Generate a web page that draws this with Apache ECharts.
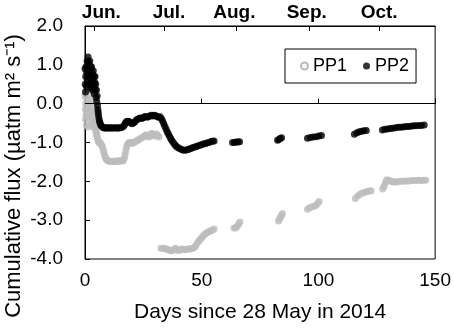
<!DOCTYPE html>
<html>
<head>
<meta charset="utf-8">
<script src="https://cdn.jsdelivr.net/npm/echarts@6/dist/echarts.min.js"></script>
<style>
html,body{margin:0;padding:0;background:#fff;}
#chart{width:454px;height:328px;}
</style>
</head>
<body>
<div id="chart"></div>
<script>
// ---- data (day since 28 May 2014, cumulative flux) ----
const seriesNames = ['PP1', 'PP2'];
const monthNames = ['Jun.', 'Jul.', 'Aug.', 'Sep.', 'Oct.'];
const monthTickDays = [4, 34, 65, 96, 126];
const monthLabelDays = [7, 36, 64, 95, 126];
const xTickValues = [0, 50, 100, 150];
const yTickValues = [-4, -3, -2, -1, 0, 1, 2];

const pp1Points = [
[0,0.2],[0.1,-0.15],[0.2,-0.4],[0.3,0.0],[0.45,-0.3],[0.6,-0.55],[0.75,-0.2],[0.9,0.1],[1.05,-0.1],[1.2,-0.35],[1.35,-0.6],[1.5,-0.25],[1.65,0.0],[1.9,0.32],[2.1,0.22],[2.3,0.05],[2.45,-0.2],[2.6,-0.45],[2.75,-0.3],[2.9,-0.1],[3.05,-0.35],[3.2,-0.55],[3.35,-0.4],[3.5,-0.25],[3.65,-0.45],[3.8,-0.6],[3.95,-0.5],[4.1,-0.35],[4.25,-0.55],[4.4,-0.65],[4.55,-0.6],[4.7,-0.72],[4.85,-0.8],[5.0,-0.76],[5.2,-0.84],[5.4,-0.9],[5.6,-0.95],[5.8,-0.98],[6.0,-1.0],[6.3,-1.0],[6.6,-1.02],[6.9,-1.05],[7.2,-1.08],[7.5,-1.12],[7.8,-1.19],[8.1,-1.26],[8.4,-1.33],[8.7,-1.38],[9.0,-1.42],[9.4,-1.45],[9.8,-1.47],[10.3,-1.48],[10.8,-1.48],[11.3,-1.49],[11.8,-1.48],[12.3,-1.48],[12.8,-1.49],[13.3,-1.48],[13.8,-1.48],[14.3,-1.47],[14.8,-1.48],[15.3,-1.47],[15.8,-1.47],[16.4,-1.47],[16.8,-1.42],[17.1,-1.33],[17.4,-1.24],[17.7,-1.15],[18,-1.08],[18.4,-1.03],[18.9,-1.0],[19.5,-1.0],[20.1,-1.02],[20.7,-1.01],[21.3,-0.99],[21.9,-0.97],[22.5,-0.95],[23.1,-0.92],[23.7,-0.9],[24.3,-0.88],[24.9,-0.86],[25.5,-0.83],[26.1,-0.8],[26.7,-0.82],[27.2,-0.86],[27.7,-0.83],[28.2,-0.79],[28.7,-0.76],[29.2,-0.79],[29.7,-0.83],[30.2,-0.8],[30.7,-0.78],[31.2,-0.82],[31.7,-0.86],
[32.5,-3.72],[33.3,-3.73],[34.1,-3.72],[34.9,-3.74],[35.7,-3.76],[36.5,-3.78],[37.2,-3.79],[37.9,-3.76],[38.6,-3.72],[39.3,-3.74],[40.0,-3.78],[40.7,-3.77],[41.4,-3.74],[42.1,-3.75],[42.8,-3.76],[43.5,-3.75],[44.2,-3.74],[44.9,-3.74],[45.6,-3.73],[46.3,-3.72],[47.0,-3.69],[47.6,-3.64],[48.2,-3.58],[48.8,-3.53],[49.4,-3.49],[50.0,-3.45],[50.6,-3.41],[51.2,-3.37],[51.8,-3.34],[52.5,-3.31],[53.2,-3.29],[53.9,-3.27],[54.6,-3.25],[55.3,-3.23],
[63.8,-3.2],[64.5,-3.2],[65.2,-3.16],[65.8,-3.1],[66.4,-3.05],
[82.9,-3.02],[83.3,-2.97],[83.7,-2.93],[84.1,-2.88],[84.6,-2.83],
[95.3,-2.72],[96.2,-2.68],[97.1,-2.66],[98.0,-2.64],[98.9,-2.62],[99.6,-2.57],[100.3,-2.52],
[115.8,-2.44],[116.8,-2.38],[117.8,-2.33],[118.8,-2.3],[119.8,-2.28],[120.8,-2.26],[121.8,-2.25],[122.6,-2.24],
[127.5,-2.2],[128.0,-2.14],[128.5,-2.07],[129.0,-2.0],[129.3,-1.96],[130.0,-1.97],[130.8,-1.99],[131.6,-2.01],[132.4,-2.02],[133.2,-2.02],[134.0,-2.01],[135.0,-2.0],[136.0,-2.0],[137.0,-1.99],[138.0,-1.99],[139.0,-1.99],[140.0,-1.98],[141.0,-1.98],[142.0,-1.98],[143.0,-1.97],[144.0,-1.98],[145.0,-1.97],[146.0,-1.97]
];

const pp2Points = [
[0,0.9],[0.1,0.5],[0.2,0.3],[0.3,0.7],[0.45,0.95],[0.6,0.45],[0.75,0.8],[0.9,1.1],[1.0,0.6],[1.15,0.9],[1.3,1.2],[1.45,0.75],[1.6,1.05],[1.75,0.5],[1.9,0.85],[2.05,1.1],[2.2,0.65],[2.35,0.95],[2.5,0.4],[2.65,0.75],[2.8,0.95],[2.95,0.55],[3.1,0.8],[3.25,0.35],[3.4,0.65],[3.55,0.85],[3.7,0.45],[3.85,0.7],[4.0,0.25],[4.15,0.55],[4.3,0.7],[4.45,0.35],[4.6,0.5],[4.75,0.15],[4.9,0.35],[5.05,0.05],[5.2,0.2],[5.35,-0.05],[5.5,-0.15],[5.65,-0.22],[5.8,-0.3],[6.0,-0.38],[6.2,-0.45],[6.45,-0.5],[6.75,-0.55],[7.1,-0.58],[7.5,-0.6],[7.9,-0.62],[8.3,-0.62],[8.8,-0.63],[9.3,-0.62],[9.8,-0.62],[10.4,-0.63],[11,-0.62],[11.6,-0.62],[12.2,-0.63],[12.8,-0.62],[13.4,-0.62],[14,-0.63],[14.6,-0.62],[15.2,-0.62],[15.8,-0.61],[16.4,-0.59],[16.9,-0.55],[17.3,-0.5],[17.8,-0.46],[18.3,-0.45],[18.9,-0.46],[19.5,-0.49],[20.1,-0.52],[20.7,-0.5],[21.3,-0.47],[21.9,-0.43],[22.5,-0.4],[23.1,-0.38],[23.7,-0.37],[24.3,-0.38],[24.9,-0.36],[25.5,-0.34],[26.1,-0.33],[26.7,-0.35],[27.3,-0.33],[27.9,-0.31],[28.5,-0.3],[29.1,-0.32],[29.7,-0.3],[30.3,-0.31],[30.9,-0.33],[31.5,-0.35],[32.1,-0.34],[32.7,-0.38],[33.2,-0.44],[33.7,-0.51],[34.2,-0.58],[34.7,-0.65],[35.2,-0.72],[35.7,-0.78],[36.2,-0.84],[36.7,-0.9],[37.2,-0.95],[37.8,-1.0],[38.4,-1.05],[39,-1.09],[39.6,-1.12],[40.3,-1.15],[41,-1.17],[41.8,-1.19],[42.6,-1.2],[43.4,-1.19],[44.2,-1.18],[45,-1.16],[45.8,-1.14],[46.6,-1.12],[47.4,-1.11],[48.2,-1.09],[49,-1.08],[49.8,-1.06],[50.6,-1.04],[51.4,-1.03],[52.2,-1.01],[53,-1.0],[53.8,-0.98],[54.6,-0.97],[55.3,-0.96],
[63.2,-1.0],[64.0,-1.0],[64.8,-0.99],[65.5,-0.99],[66.2,-0.98],
[82.5,-0.94],[83.0,-0.92],[83.6,-0.9],[84.2,-0.88],
[95.3,-0.89],[96.5,-0.87],[97.7,-0.86],[99.0,-0.85],[100.2,-0.83],[101.3,-0.82],
[115.4,-0.79],[116.5,-0.75],[117.5,-0.72],[118.5,-0.71],[119.5,-0.7],[120.5,-0.69],
[127.4,-0.68],[128.5,-0.66],[129.6,-0.65],[130.7,-0.64],[131.8,-0.63],[133.0,-0.62],[134.1,-0.61],[135.2,-0.61],[136.3,-0.6],[137.4,-0.59],[138.5,-0.59],[139.6,-0.58],[140.7,-0.57],[141.8,-0.57],[143.0,-0.56],[144.1,-0.56],[145.3,-0.55]
];

// ---- chart ----
const FONT = '"Liberation Sans", Arial, sans-serif';
const GRAY = '#bdbdbd';
const chart = echarts.init(document.getElementById('chart'), null, {renderer: 'canvas'});
chart.setOption({
  animation: false,
  backgroundColor: '#fff',
  textStyle: {fontFamily: FONT, color: '#000'},
  grid: {left: 85, right: 18, top: 26, bottom: 66, show: true, borderColor: '#000', borderWidth: 1, backgroundColor: 'transparent'},
  legend: {
    left: 285, top: 49,
    borderColor: '#000', borderWidth: 1, borderRadius: 0,
    padding: [8, 7, 8, 15],
    itemGap: 16, itemWidth: 7, itemHeight: 7,
    textStyle: {fontSize: 18, fontFamily: FONT, color: '#000'},
    data: [
      {name: seriesNames[0], icon: 'emptyCircle', itemStyle: {color: '#a8a8a8', borderColor: '#a8a8a8', borderWidth: 1.2}},
      {name: seriesNames[1], icon: 'circle', itemStyle: {color: '#000'}}
    ]
  },
  xAxis: [{
    type: 'value', position: 'bottom', min: 0, max: 150, interval: 50,
    axisLine: {show: true, lineStyle: {color: '#000', width: 1}},
    axisTick: {show: true, inside: true, length: 5, lineStyle: {color: '#000'}, customValues: xTickValues},
    axisLabel: {fontSize: 19, color: '#000', margin: 12, fontFamily: FONT, customValues: xTickValues},
    splitLine: {show: false},
    name: 'Days since 28 May in 2014', nameLocation: 'middle', nameGap: 43,
    nameTextStyle: {fontSize: 21, color: '#000', fontFamily: FONT}
  }, {
    type: 'value', position: 'top', min: 0, max: 150,
    axisLine: {show: true, lineStyle: {color: '#000', width: 1}},
    axisTick: {show: true, inside: true, length: 5, lineStyle: {color: '#000'}, customValues: monthTickDays},
    axisLabel: {
      fontSize: 19, fontWeight: 'bold', color: '#000', margin: 4, fontFamily: FONT,
      customValues: monthLabelDays,
      formatter: function (v) { const i = monthLabelDays.indexOf(v); return i >= 0 ? monthNames[i] : ''; }
    },
    splitLine: {show: false}
  }],
  yAxis: {
    type: 'value', min: -4, max: 2, interval: 1,
    axisLine: {show: true, lineStyle: {color: '#000', width: 1}},
    axisTick: {show: true, inside: true, length: 5, lineStyle: {color: '#000'}, customValues: yTickValues},
    axisLabel: {fontSize: 19, color: '#000', margin: 22, fontFamily: FONT, customValues: yTickValues,
      formatter: function (v) { return v.toFixed(1); }},
    splitLine: {show: false}
  },
  graphic: [{
    type: 'text', x: 14, y: 176, rotation: Math.PI / 2,
    style: {text: 'Cumulative flux (µatm m² s⁻¹)', fontSize: 22, fontFamily: FONT, fill: '#000', align: 'center', verticalAlign: 'middle'}
  }],
  series: [{
    name: seriesNames[0], type: 'scatter', xAxisIndex: 0, yAxisIndex: 0,
    symbol: 'circle', symbolSize: 7,
    itemStyle: {color: GRAY},
    data: pp1Points, silent: true
  }, {
    name: seriesNames[1], type: 'scatter', xAxisIndex: 0, yAxisIndex: 0,
    symbol: 'circle', symbolSize: 7,
    itemStyle: {color: '#000'},
    data: pp2Points, silent: true,
    markLine: {
      silent: true, symbol: ['none', 'none'], label: {show: false},
      lineStyle: {color: '#000', width: 1, type: 'solid'},
      data: [{yAxis: 0}]
    }
  }]
});
</script>
</body>
</html>
